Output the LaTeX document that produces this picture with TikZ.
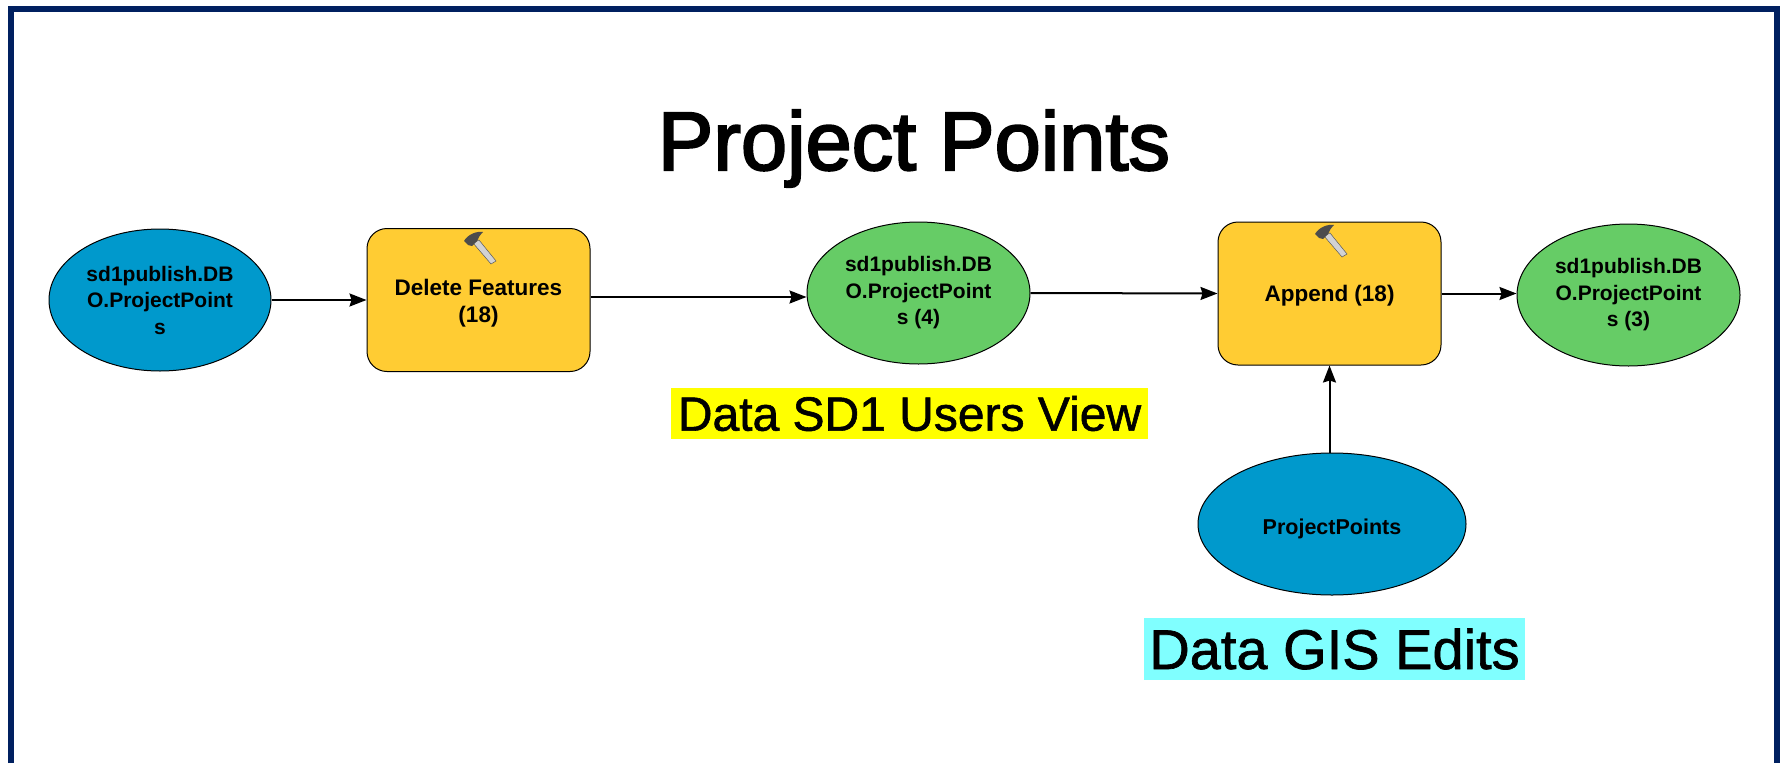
\documentclass[tikz,border=0pt]{standalone}
\usepackage{fontspec}
\setmainfont{Liberation Sans}
\newfontfamily\heavyish[FakeBold=1.2]{Liberation Sans}
\newfontfamily\heavytitle[FakeBold=2.5]{Liberation Sans}
\usetikzlibrary{shapes.geometric,arrows.meta}
\definecolor{frameblue}{HTML}{002060}
\definecolor{srcblue}{HTML}{0099CC}
\definecolor{outgreen}{HTML}{66CC66}
\definecolor{toolamber}{HTML}{FFCC33}
\definecolor{hiyellow}{HTML}{FFFF00}
\definecolor{hicyan}{HTML}{80FFFF}
\tikzset{
  dataell/.style={ellipse,draw=black,line width=1pt,inner sep=0pt,align=center,
    font=\fontsize{21}{26.5}\selectfont\bfseries,minimum width=222pt,minimum height=142pt},
  toolbox/.style={rectangle,rounded corners=20pt,draw=black,line width=1pt,fill=toolamber,
    align=center,font=\fontsize{22.5}{27}\selectfont\bfseries,minimum width=223pt,minimum height=143pt},
  link/.style={line width=2pt,-{Stealth[length=17pt,width=13pt,inset=2pt]}},
  hilabel/.style={inner sep=0pt,text=black,anchor=center},
  hammer/.pic={
    \fill[gray!35,draw=gray!70!black,line width=.5pt] (-4,-9) -- (2,-12) -- (19,9) -- (14,12) -- cycle;
    \fill[gray!60!black] (-13,-11) .. controls (-9,-18) and (0,-21) .. (6,-20)
       .. controls (3,-17) and (1,-14) .. (0,-11) -- (-5,-6) -- (-9,-7) -- cycle;
  }
}
\begin{document}
\begin{tikzpicture}[x=1pt,y=-1pt]
\useasboundingbox (0,0) rectangle (1783,763);
\fill[white] (0,0) rectangle (1783,763);
\draw[frameblue,line width=6pt] (11,763) -- (11,9) -- (1777,9) -- (1777,763);

\node[font=\heavytitle\fontsize{83}{83}\selectfont] (title) at (914,148.5) {Project Points};

\node[dataell,fill=srcblue] (e1) at (160,300) {sd1publish.DB\\O.ProjectPoint\\s};
\node[toolbox] (b1) at (478.5,300) {\rule{0pt}{22pt}Delete Features\\(18)};
\node[dataell,fill=outgreen,minimum width=223pt] (e2) at (918.5,293) {sd1publish.DB\\O.ProjectPoint\\s (4)};
\node[toolbox] (b2) at (1329.5,293.5) {\rule{0pt}{21pt}Append (18)};
\node[dataell,fill=outgreen,minimum width=223pt] (e3) at (1628.5,295) {sd1publish.DB\\O.ProjectPoint\\s (3)};
\node[dataell,fill=srcblue,minimum width=268pt,font=\fontsize{21.5}{26}\selectfont\bfseries] (e4) at (1332,524) {\rule{0pt}{25pt}ProjectPoints};

\pic at (477,252) {hammer};
\pic at (1328,245) {hammer};

\draw[link] (e1.east) -- (b1.west);
\draw[link] ([yshift=3pt]b1.east) -- ([yshift=-4pt]e2.west);
\draw[link] (e2.east) -- (b2.west);
\draw[link] (b2.east) -- ([yshift=1.5pt]e3.west);
\draw[link] (b2.south |- e4.north) -- (b2.south);

\node[fill=hiyellow,hilabel,minimum width=477pt,minimum height=51pt,font=\heavyish\fontsize{48}{48}\selectfont] (l1) at (909.5,413.5) {Data SD1 Users View};
\node[fill=hicyan,hilabel,minimum width=381pt,minimum height=62pt,font=\heavyish\fontsize{56}{56}\selectfont] (l2) at (1334.5,649) {Data GIS Edits};
\end{tikzpicture}
\end{document}
